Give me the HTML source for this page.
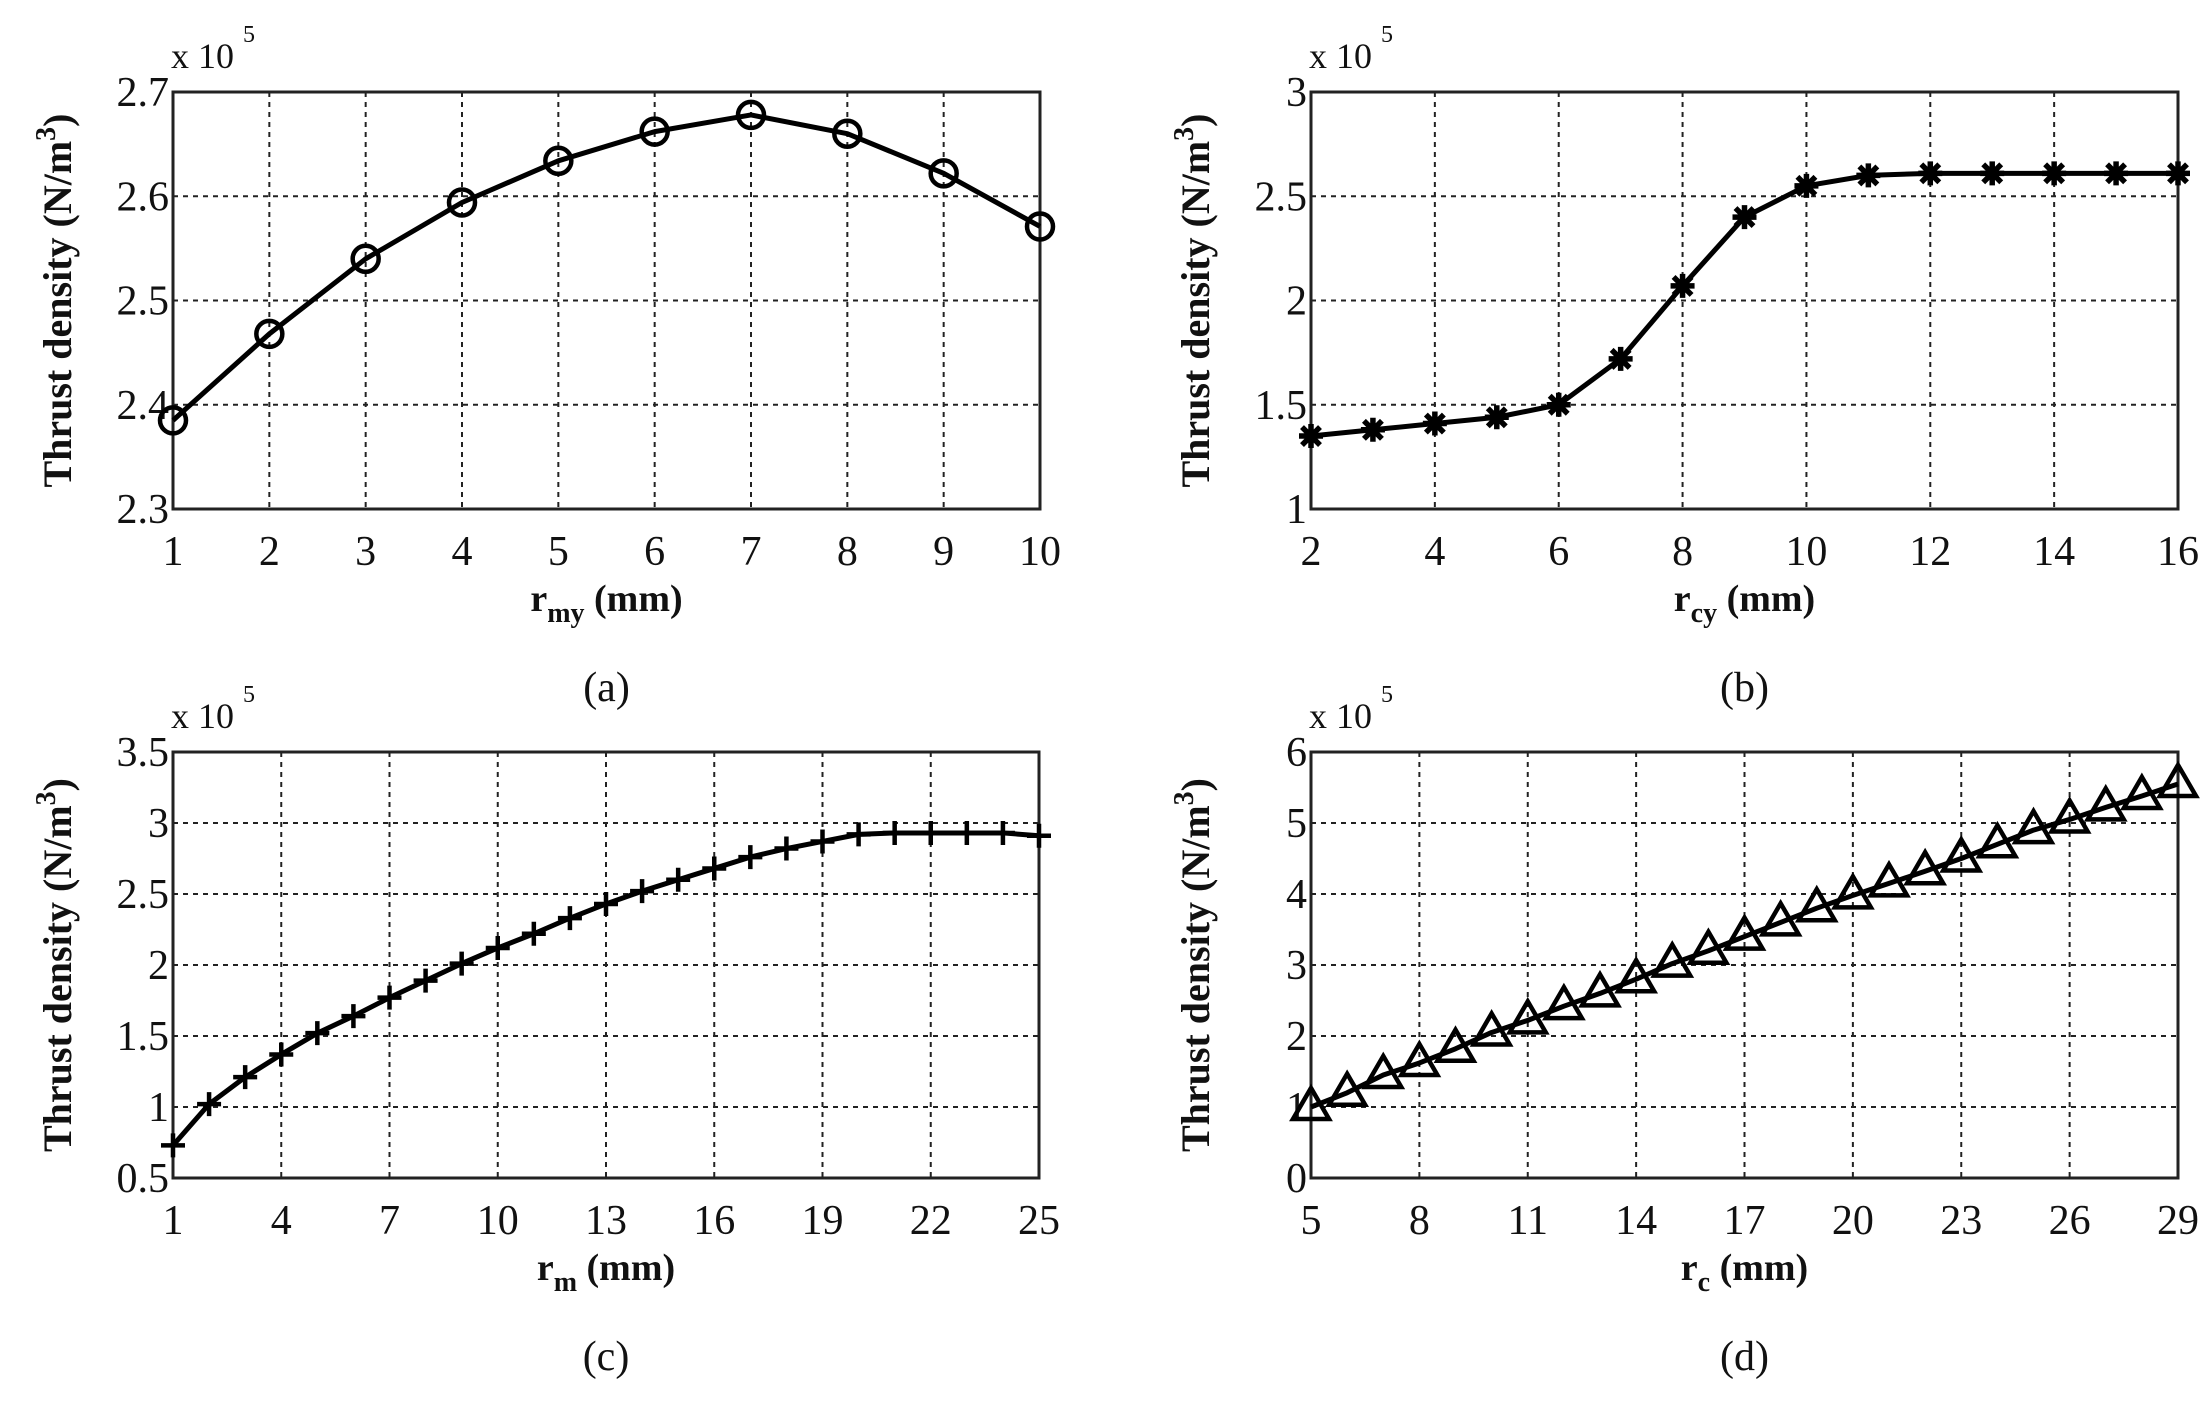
<!DOCTYPE html>
<html><head><meta charset="utf-8">
<style>
html,body{margin:0;padding:0;background:#fff;}
svg{display:block;}
text{font-family:"Liberation Serif",serif;fill:#111;}
</style></head>
<body>
<svg id="fig" width="2212" height="1402" viewBox="0 0 2212 1402" xmlns="http://www.w3.org/2000/svg"></svg>
<script>
// Panel (a)
const aX = [1,2,3,4,5,6,7,8,9,10];
const aY = [2.385,2.468,2.540,2.594,2.634,2.662,2.678,2.660,2.622,2.571];
const aXTicks = [1,2,3,4,5,6,7,8,9,10];
const aYTicks = [2.3,2.4,2.5,2.6,2.7];
// Panel (b)
const bX = [2,3,4,5,6,7,8,9,10,11,12,13,14,15,16];
const bY = [1.35,1.38,1.41,1.44,1.50,1.72,2.07,2.40,2.55,2.60,2.61,2.61,2.61,2.61,2.61];
const bXTicks = [2,4,6,8,10,12,14,16];
const bYTicks = [1,1.5,2,2.5,3];
// Panel (c)
const cX = [1,2,3,4,5,6,7,8,9,10,11,12,13,14,15,16,17,18,19,20,21,22,23,24,25];
const cY = [0.73,1.02,1.21,1.37,1.52,1.64,1.77,1.89,2.01,2.12,2.22,2.33,2.43,2.52,2.60,2.68,2.76,2.82,2.87,2.92,2.93,2.93,2.93,2.93,2.91];
const cXTicks = [1,4,7,10,13,16,19,22,25];
const cYTicks = [0.5,1,1.5,2,2.5,3,3.5];
// Panel (d)
const dX = [5,6,7,8,9,10,11,12,13,14,15,16,17,18,19,20,21,22,23,24,25,26,27,28,29];
const dY = [1.0,1.2,1.45,1.62,1.82,2.05,2.22,2.42,2.6,2.8,3.02,3.2,3.4,3.6,3.8,3.98,4.15,4.32,4.5,4.7,4.9,5.05,5.22,5.38,5.55];
const dXTicks = [5,8,11,14,17,20,23,26,29];
const dYTicks = [0,1,2,3,4,5,6];

const NS = "http://www.w3.org/2000/svg";
const svg = document.getElementById('fig');
function mk(tag, attrs, parent){
  const e = document.createElementNS(NS, tag);
  for (const k in attrs) e.setAttribute(k, attrs[k]);
  (parent||svg).appendChild(e);
  return e;
}

function panel(cfg){
  const g = mk('g', {});
  
  
  const {L,T,R,B} = cfg;
  const xmin = cfg.xt[0], xmax = cfg.xt[cfg.xt.length-1];
  const ymin = cfg.yt[0], ymax = cfg.yt[cfg.yt.length-1];
  const sx = v => L + (v - xmin) / (xmax - xmin) * (R - L);
  const sy = v => B - (v - ymin) / (ymax - ymin) * (B - T);

  cfg.xt.forEach(t => {
    if (t === xmin || t === xmax) return;
    const l = mk('line', {x1:sx(t), x2:sx(t), y1:T, y2:B, stroke:'#222', 'stroke-width':2, 'stroke-dasharray':'5,5'}, g);
    
    
  });
  cfg.yt.forEach(t => {
    if (t === ymin || t === ymax) return;
    const l = mk('line', {x1:L, x2:R, y1:sy(t), y2:sy(t), stroke:'#222', 'stroke-width':2, 'stroke-dasharray':'5,5'}, g);
    
    
  });
  const fr = mk('rect', {x:L, y:T, width:R-L, height:B-T, fill:'none', stroke:'#222', 'stroke-width':3}, g);
  
  

  cfg.xt.forEach(t => {
    const tx = mk('text', {x:sx(t), y:B+56, 'font-size':42, 'text-anchor':'middle'}, g);
    tx.textContent = t;
    
    
  });
  cfg.yt.forEach(t => {
    const ty = mk('text', {x:L-4, y:sy(t)+14, 'font-size':42, 'text-anchor':'end'}, g);
    ty.textContent = t;
    
    
  });
  const ex = mk('text', {x:L-2, y:T-24, 'font-size':36}, g);
  ex.textContent = 'x 10';
  
  
  const ex5 = mk('text', {x:L+70, y:T-50, 'font-size':24}, g);
  ex5.textContent = '5';
  
  

  const yc = (T+B)/2;
  const yl = mk('text', {x:0, y:0, 'font-size':40, 'font-weight':'bold', 'text-anchor':'middle', transform:`translate(${L-102},${yc}) rotate(-90)`}, g);
  
  
  yl.innerHTML = 'Thrust density (N/m<tspan dy="-16" font-size="28">3</tspan><tspan dy="16">)</tspan>';

  const xc = (L+R)/2;
  const xl = mk('text', {x:xc, y:B+102, 'font-size':38, 'font-weight':'bold', 'text-anchor':'middle'}, g);
  
  
  xl.innerHTML = 'r<tspan dy="11" font-size="28">' + cfg.sub + '</tspan><tspan dy="-11"> (mm)</tspan>';

  const cap = mk('text', {x:xc, y:B+192, 'font-size':42, 'text-anchor':'middle'}, g);
  cap.textContent = '(' + cfg.id + ')';
  
  

  const pts = cfg.x.map((v,i) => sx(v)+','+sy(cfg.y[i])).join(' ');
  const pl = mk('polyline', {points:pts, fill:'none', stroke:'#000', 'stroke-width':5, 'stroke-linejoin':'round'}, g);
  
  

  cfg.x.forEach((v,i) => {
    const px = sx(v), py = sy(cfg.y[i]);
    let m;
    if (cfg.marker === 'o') {
      m = mk('circle', {cx:px, cy:py, r:13, fill:'none', stroke:'#000', 'stroke-width':4.5}, g);
    } else if (cfg.marker === '*') {
      m = mk('path', {d:`M${px-12},${py}H${px+12}M${px},${py-12}V${py+12}M${px-9},${py-9}L${px+9},${py+9}M${px-9},${py+9}L${px+9},${py-9}`, stroke:'#000', 'stroke-width':5.5}, g);
    } else if (cfg.marker === '+') {
      m = mk('path', {d:`M${px-12},${py}H${px+12}M${px},${py-12}V${py+12}`, stroke:'#000', 'stroke-width':4.5}, g);
    } else {
      m = mk('path', {d:`M${px},${py-19}L${px+18},${py+12}L${px-18},${py+12}Z`, fill:'none', stroke:'#000', 'stroke-width':4.5}, g);
    }
    
    
  });
}

panel({id:'a', L:173, T:92, R:1040, B:509, x:aX, y:aY, xt:aXTicks, yt:aYTicks, marker:'o', sub:'my'});
panel({id:'b', L:1311, T:92, R:2178, B:509, x:bX, y:bY, xt:bXTicks, yt:bYTicks, marker:'*', sub:'cy'});
panel({id:'c', L:173, T:752, R:1039, B:1178, x:cX, y:cY, xt:cXTicks, yt:cYTicks, marker:'+', sub:'m'});
panel({id:'d', L:1311, T:752, R:2178, B:1178, x:dX, y:dY, xt:dXTicks, yt:dYTicks, marker:'^', sub:'c'});
</script>
</body></html>
